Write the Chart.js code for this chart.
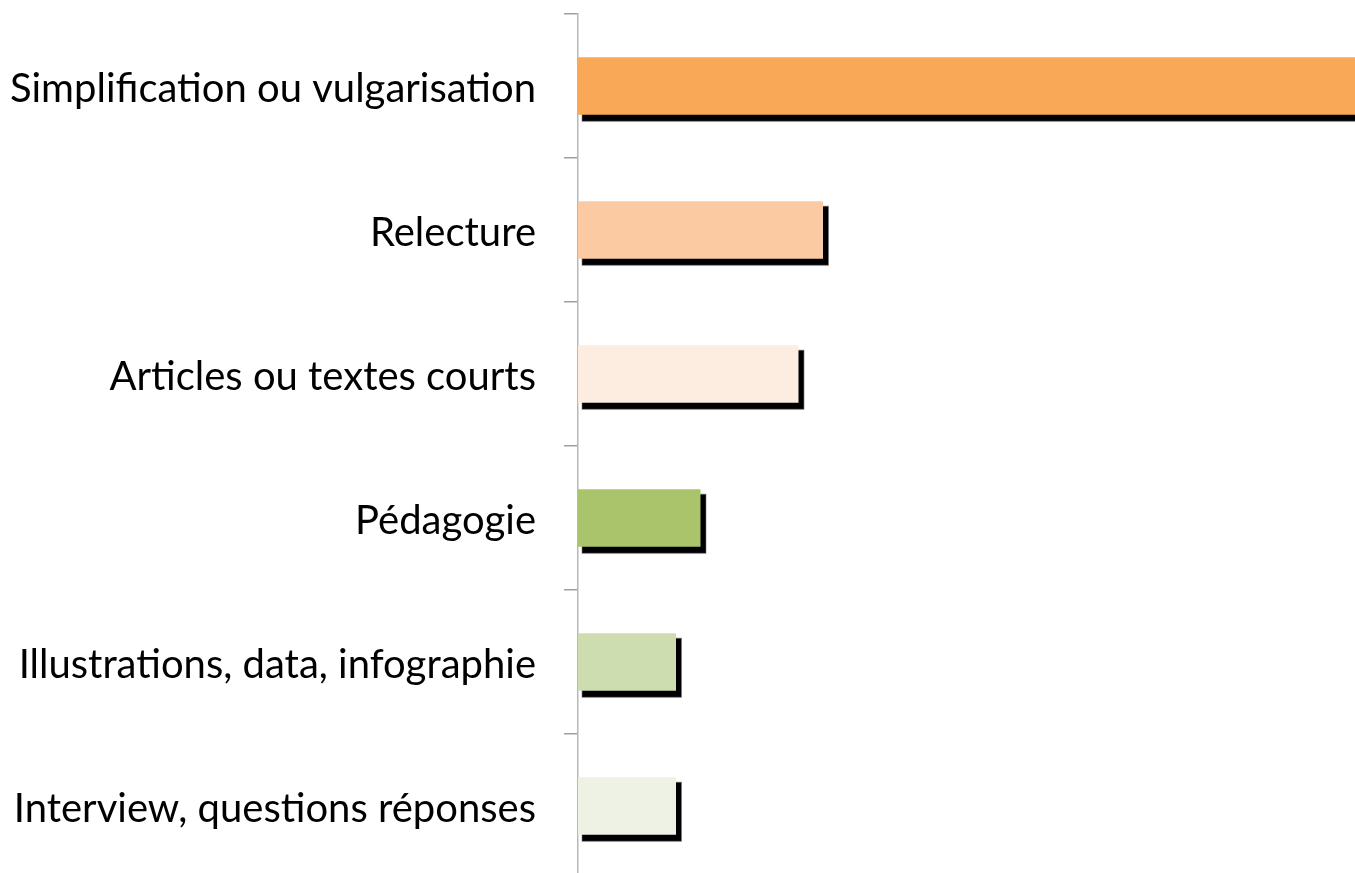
<!DOCTYPE html>
<html>
<head>
<meta charset="utf-8">
<script src="https://cdn.jsdelivr.net/npm/chart.js@4"></script>
<style>
  html, body { margin: 0; padding: 0; background: #fff; overflow: hidden; }
  canvas { display: block; }
</style>
</head>
<body>
<canvas id="myChart" width="1460" height="880"></canvas>
<script>
var categories = [
  'Simplification ou vulgarisation',
  'Relecture',
  'Articles ou textes courts',
  'Pédagogie',
  'Illustrations, data, infographie',
  'Interview, questions réponses'
]
var values = [34, 10, 9, 5, 4, 4]
var colors = ['#F9A857', '#FBCAA2', '#FDEDE1', '#AAC46C', '#CDDDB0', '#EEF2E5']

// black drop shadow behind each bar
const shadowPlugin = {
  id: 'barShadow',
  beforeDatasetsDraw(chart) {
    const c = chart.ctx
    const meta = chart.getDatasetMeta(0)
    c.save()
    meta.data.forEach(bar => {
      const p = bar.getProps(['x', 'y', 'base', 'height'], true)
      const top = p.y - p.height / 2
      c.fillStyle = '#000'
      c.fillRect(p.base + 4, top + 5, p.x - p.base + 1.5, p.height + 1.5)
      c.strokeStyle = 'rgba(120,120,120,0.6)'
      c.lineWidth = 1
      c.strokeRect(p.base + 4, top + 5, p.x - p.base + 1.5, p.height + 1.5)
    })
    c.restore()
  }
}

const ctx = document.getElementById('myChart')

var chart = new Chart(ctx, {
  type: 'bar',
  data: {
    labels: categories,
    datasets: [{
      data: values,
      backgroundColor: colors,
      borderWidth: 0,
      categoryPercentage: 1,
      barPercentage: 0.4
    }]
  },
  options: {
    indexAxis: 'y',
    responsive: false,
    animation: false,
    layout: { padding: { top: 14, bottom: 2, left: 0, right: 0 } },
    plugins: {
      legend: { display: false },
      tooltip: { enabled: false }
    },
    scales: {
      x: {
        display: false,
        min: 0,
        max: 36
      },
      y: {
        afterFit: (scale) => {
          scale.width = 578
          scale.paddingTop = 0
          scale.paddingBottom = 0
        },
        grid: {
          drawOnChartArea: false,
          drawTicks: true,
          tickLength: 14,
          color: '#a0a0a0',
          lineWidth: 1.5
        },
        border: { color: '#b8b8b8', width: 1.5 },
        ticks: {
          color: '#000',
          padding: 28,
          labelOffset: 3,
          font: { family: 'Lato', size: 40 }
        }
      }
    }
  },
  plugins: [shadowPlugin]
})
</script>
</body>
</html>
